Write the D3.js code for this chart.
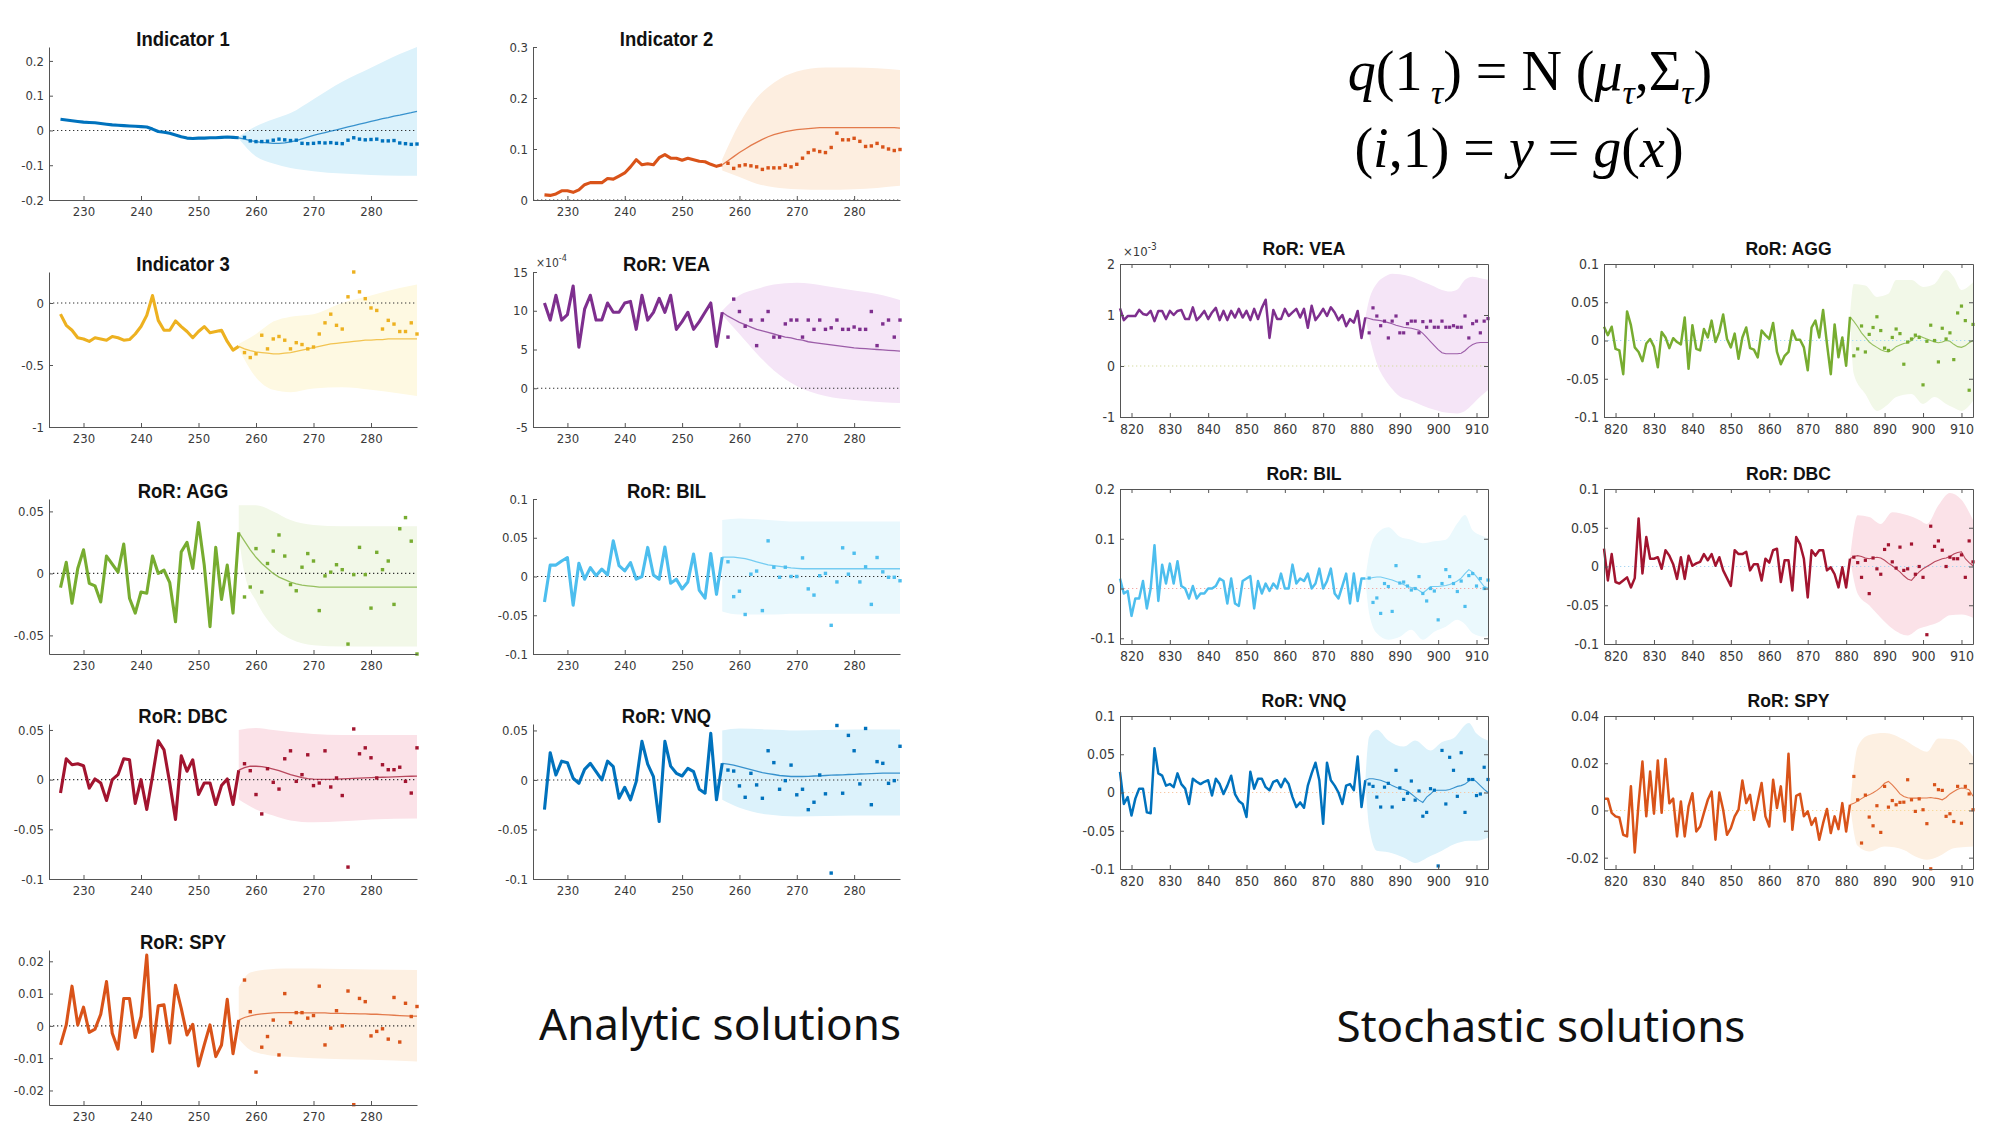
<!DOCTYPE html>
<html><head><meta charset="utf-8">
<script src="https://cdn.jsdelivr.net/npm/d3@7/dist/d3.min.js"></script>
<style>body{margin:0;background:#fff}svg{display:block}</style>
</head><body>
<svg id="c" width="1990" height="1141"></svg>
<script>
// ---------------- DATA ----------------
// Analytic solutions: observed 226..257, forecast mean 257..288, actual dots 258..288
const xTicksA = [230,240,250,260,270,280];
const xTicksS = [820,830,840,850,860,870,880,890,900,910];

const ind1Obs = [0.032,0.030,0.028,0.026,0.024,0.023,0.022,0.020,0.018,0.016,0.015,0.014,0.013,0.012,0.011,0.010,0.004,-0.003,-0.005,-0.008,-0.013,-0.018,-0.022,-0.023,-0.022,-0.022,-0.021,-0.021,-0.020,-0.019,-0.020,-0.021];
const ind1Mean = [-0.021,-0.025,-0.029,-0.032,-0.034,-0.036,-0.037,-0.037,-0.036,-0.033,-0.029,-0.024,-0.019,-0.014,-0.010,-0.006,-0.002,0.002,0.006,0.010,0.014,0.018,0.022,0.026,0.030,0.034,0.037,0.041,0.044,0.048,0.051,0.055];
const ind1Dots = [-0.02,-0.03,-0.032,-0.032,-0.031,-0.028,-0.025,-0.027,-0.029,-0.028,-0.037,-0.038,-0.037,-0.035,-0.036,-0.035,-0.037,-0.038,-0.028,-0.021,-0.025,-0.027,-0.026,-0.025,-0.03,-0.03,-0.029,-0.036,-0.038,-0.04,-0.039];
const ind1BandX = [257,260,263,266,270,275,280,285,288];
const ind1BandHi = [-0.018,0.012,0.032,0.05,0.09,0.14,0.18,0.22,0.24];
const ind1BandLo = [-0.024,-0.075,-0.095,-0.108,-0.117,-0.124,-0.128,-0.13,-0.13];
const ind1YTicks = [-0.2,-0.1,0,0.1,0.2];

const ind2Obs = [0.010,0.009,0.012,0.018,0.018,0.015,0.020,0.030,0.034,0.034,0.034,0.042,0.041,0.047,0.053,0.065,0.079,0.069,0.071,0.069,0.083,0.089,0.082,0.082,0.078,0.082,0.079,0.076,0.075,0.070,0.066,0.069];
const ind2Mean = [0.069,0.077,0.085,0.093,0.100,0.107,0.113,0.119,0.124,0.128,0.131,0.134,0.136,0.138,0.139,0.140,0.141,0.142,0.142,0.142,0.142,0.142,0.142,0.142,0.142,0.142,0.142,0.142,0.142,0.142,0.142,0.141];
const ind2Dots = [0.072,0.062,0.067,0.069,0.067,0.065,0.060,0.063,0.063,0.063,0.068,0.065,0.070,0.082,0.093,0.098,0.095,0.093,0.103,0.131,0.118,0.118,0.121,0.115,0.105,0.106,0.111,0.104,0.100,0.097,0.099];
const ind2BandX = [257,260,263,266,270,275,280,288];
const ind2BandHi = [0.08,0.15,0.2,0.23,0.252,0.26,0.26,0.255];
const ind2BandLo = [0.058,0.045,0.032,0.025,0.021,0.02,0.021,0.028];
const ind2YTicks = [0,0.1,0.2,0.3];

const ind3Obs = [-0.09,-0.18,-0.22,-0.28,-0.29,-0.31,-0.28,-0.29,-0.30,-0.27,-0.28,-0.30,-0.295,-0.25,-0.19,-0.10,0.06,-0.14,-0.22,-0.22,-0.145,-0.19,-0.23,-0.28,-0.23,-0.19,-0.24,-0.23,-0.22,-0.31,-0.38,-0.35];
const ind3Mean = [-0.35,-0.37,-0.385,-0.395,-0.40,-0.405,-0.41,-0.41,-0.405,-0.40,-0.39,-0.38,-0.37,-0.36,-0.35,-0.34,-0.33,-0.325,-0.32,-0.315,-0.31,-0.305,-0.30,-0.30,-0.295,-0.295,-0.29,-0.29,-0.29,-0.29,-0.29,-0.29];
const ind3Dots = [-0.40,-0.44,-0.41,-0.26,-0.37,-0.29,-0.27,-0.30,-0.37,-0.32,-0.335,-0.37,-0.355,-0.25,-0.16,-0.09,-0.18,-0.21,0.05,0.25,0.09,0.035,-0.04,-0.06,-0.21,-0.14,-0.17,-0.23,-0.23,-0.16,-0.25];
const ind3BandX = [257,260,263,266,270,275,280,285,288];
const ind3BandHi = [-0.33,-0.25,-0.15,-0.11,-0.09,0.0,0.06,0.12,0.15];
const ind3BandLo = [-0.37,-0.6,-0.7,-0.72,-0.69,-0.68,-0.7,-0.73,-0.75];
const ind3YTicks = [-1,-0.5,0];

// VEA analytic values in units of 1e-4
const veaAObs = [11,8.8,12,8.8,9.5,13.2,5.3,10.2,12,8.8,8.8,11,9.8,9.8,11,11.2,7.6,12,8.8,9.8,11.6,9.8,12,7.6,8.6,9.8,7.6,8.6,9.8,11,5.4,9.8];
const veaAMean = [9.8,9.3,8.9,8.5,8.2,7.9,7.6,7.4,7.2,7.0,6.8,6.6,6.5,6.3,6.2,6.0,5.9,5.8,5.7,5.6,5.5,5.4,5.3,5.2,5.15,5.1,5.05,5.0,4.95,4.9,4.85,4.8];
const veaADots = [6.6,11.5,9.9,8.0,8.8,5.5,8.8,9.9,6.6,6.6,8.3,8.8,8.8,6.6,8.8,7.6,8.8,7.6,7.8,8.8,7.6,7.6,7.9,7.6,7.6,9.9,5.5,8.3,8.8,6.6,8.8];
const veaABandX = [257,260,263,266,270,275,280,285,288];
const veaABandHi = [10,12,12.8,13.4,13.6,13.2,12.6,12,11.4];
const veaABandLo = [9.5,7,4.5,2.3,0.3,-1.0,-1.5,-1.8,-1.9];
const veaAYTicks = [-5,0,5,10,15];

const aggAObs = [-0.0115,0.009,-0.024,0.004,0.019,-0.008,-0.01,-0.023,0.014,0.0075,0.001,0.0236,-0.02,-0.032,-0.015,-0.016,0.014,0,0.0027,-0.0075,-0.039,0.0174,0.025,0.004,0.041,0.0067,-0.043,0.021,-0.021,0.0067,-0.032,0.033];
const aggAMean = [0.033,0.026,0.019,0.013,0.008,0.004,0.0,-0.003,-0.005,-0.007,-0.0085,-0.0095,-0.010,-0.0105,-0.011,-0.011,-0.011,-0.011,-0.011,-0.011,-0.011,-0.011,-0.011,-0.011,-0.011,-0.011,-0.011,-0.011,-0.011,-0.011,-0.011,-0.011];
const aggADots = [-0.019,-0.011,0.020,-0.015,0.008,0.018,0.031,0.014,-0.009,-0.014,0.005,0.016,0.01,-0.030,-0.002,0.001,0.007,0.003,-0.057,-0.001,0.021,-0.001,-0.028,0.017,0.003,0.010,-0.025,0.036,0.045,0.026,-0.065];
const aggABandX = [257,258,260,263,266,270,275,288];
const aggABandHi = [0.055,0.055,0.055,0.05,0.043,0.039,0.038,0.038];
const aggABandLo = [0.03,0.0,-0.022,-0.043,-0.053,-0.058,-0.059,-0.059];
const aggAYTicks = [-0.05,0,0.05];

const bilAObs = [-0.033,0.0147,0.0147,0.02,0.0245,-0.037,0.017,-0.0035,0.0115,0.001,0.0095,0.002,0.046,0.014,0.0073,0.018,-0.0035,0,0.0375,0.002,-0.0035,0.038,-0.0086,-0.0035,-0.016,-0.007,0.029,-0.018,-0.028,0.0297,-0.023,0.025];
const bilAMean = [0.025,0.025,0.025,0.024,0.023,0.021,0.019,0.017,0.015,0.014,0.013,0.012,0.011,0.0105,0.01,0.01,0.01,0.01,0.01,0.01,0.01,0.01,0.01,0.01,0.01,0.01,0.01,0.01,0.01,0.01,0.01,0.01];
const bilADots = [0.019,-0.026,-0.019,-0.049,0.003,0.007,-0.044,0.046,0.012,-0.001,0.012,0,0,0.024,-0.016,-0.024,0.001,0.004,-0.063,-0.007,0.037,0.003,0.030,-0.007,0.0125,-0.036,0.0245,0.006,-0.001,-0.001,-0.0055];
const bilABandX = [257,260,265,270,288];
const bilABandHi = [0.073,0.075,0.073,0.071,0.071];
const bilABandLo = [-0.045,-0.049,-0.049,-0.048,-0.048];
const bilAYTicks = [-0.1,-0.05,0,0.05,0.1];

const dbcAObs = [-0.0135,0.021,0.015,0.016,0.014,-0.0085,0.0007,-0.0034,-0.021,0,0.005,0.021,0.020,-0.024,0,-0.030,0.0034,0.039,0.030,-0.0034,-0.040,0.024,0.0085,0.020,-0.015,-0.0034,-0.0034,-0.025,-0.006,0.0007,-0.025,0.0095];
const dbcAMean = [0.0095,0.012,0.0135,0.0135,0.013,0.012,0.0105,0.009,0.007,0.005,0.0035,0.002,0.001,0.0005,0.0003,0.0002,0.0002,0.0005,0.0008,0.001,0.0012,0.0015,0.0017,0.002,0.0022,0.0024,0.0026,0.0028,0.003,0.0032,0.0034,0.0035];
const dbcADots = [0.016,0.009,-0.015,-0.0345,0.011,-0.0027,-0.0095,0.021,0.029,-0.0017,0.005,0.025,-0.006,-0.0034,0.029,-0.0074,0.0017,-0.016,-0.088,0.051,0.026,0.032,0.022,0.0017,0.015,0.010,0.010,0.0125,-0.0017,-0.0135,0.032];
const dbcABandX = [257,260,263,266,270,275,280,288];
const dbcABandHi = [0.05,0.052,0.05,0.048,0.046,0.045,0.045,0.045];
const dbcABandLo = [-0.02,-0.03,-0.036,-0.041,-0.043,-0.042,-0.04,-0.039];
const dbcAYTicks = [-0.1,-0.05,0,0.05];

const vnqAObs = [-0.030,0.0275,0.005,0.019,0.0175,0.0017,-0.0034,0.0107,0.0168,0.0084,0,0.019,0.0134,-0.0185,-0.0074,-0.020,-0.0017,0.039,0.016,0.0034,-0.042,0.039,0.014,0.0067,0.004,0.0117,0.0084,-0.0094,-0.0134,0.047,-0.020,0.0168];
const vnqAMean = [0.0168,0.016,0.015,0.0135,0.012,0.0105,0.009,0.0075,0.0065,0.0055,0.0045,0.004,0.0035,0.0035,0.0035,0.0037,0.004,0.0042,0.0045,0.0048,0.005,0.0052,0.0055,0.0057,0.006,0.0062,0.0064,0.0066,0.0068,0.007,0.007,0.007];
const vnqADots = [0.010,0.009,-0.006,-0.0175,0.0067,-0.005,-0.0185,0.0295,0.0175,-0.0094,-0.0007,0.015,-0.015,-0.0094,-0.030,-0.0225,0.005,-0.014,-0.094,0.055,-0.0134,0.045,0.0295,-0.004,0.052,-0.025,0.0185,0.0168,-0.0034,-0.0007,0.034];
const vnqABandX = [257,260,265,270,280,288];
const vnqABandHi = [0.05,0.052,0.051,0.05,0.051,0.051];
const vnqABandLo = [-0.02,-0.028,-0.035,-0.037,-0.036,-0.036];
const vnqAYTicks = [-0.1,-0.05,0,0.05];

const spyAObs = [-0.0059,0.0003,0.0123,0.0003,0.0058,-0.002,-0.001,0.0036,0.0137,-0.0023,-0.0072,0.0085,0.0085,-0.0036,0.0029,0.0219,-0.0079,0.0062,0.0065,-0.0053,0.0126,0.0054,-0.0028,0.0005,-0.0124,-0.0059,0.0003,-0.0095,-0.0059,0.0082,-0.0086,0.0018];
const spyAMean = [0.0018,0.0026,0.0031,0.0035,0.0037,0.0039,0.004,0.0041,0.0041,0.0041,0.0041,0.004,0.004,0.004,0.004,0.004,0.0039,0.0039,0.0039,0.0038,0.0038,0.0037,0.0037,0.0036,0.0036,0.0035,0.0034,0.0033,0.0032,0.0031,0.003,0.003];
const spyADots = [0.0142,0.0044,-0.0143,-0.0066,-0.0033,0.0018,-0.009,0.010,0.001,0.0041,0.0041,0.0024,0.0032,0.0123,-0.0059,-0.0007,0.0047,0,0.0108,-0.0244,0.0085,0.0075,-0.0031,-0.0017,-0.0009,-0.0041,0.0088,-0.005,0.007,0.0029,0.006];
const spyABandX = [257,259,262,265,270,280,288];
const spyABandHi = [0.012,0.0165,0.0175,0.0178,0.0178,0.0175,0.0173];
const spyABandLo = [-0.004,-0.0075,-0.009,-0.0095,-0.01,-0.0105,-0.011];
const spyAYTicks = [-0.02,-0.01,0,0.01,0.02];

// Stochastic solutions: observed 817..881, mean 881..913, dots 882..913
// VEA stochastic values in units of 1e-3
const veaSObs = [1.13,0.9,0.98,0.98,0.98,1.1,1.02,1.0,1.08,0.88,1.08,1.08,0.92,1.08,1.0,1.08,1.1,0.92,0.92,1.15,0.9,0.98,1.08,0.92,1.05,1.14,0.9,1.08,0.9,1.08,0.95,1.12,0.95,1.08,0.9,1.12,0.92,1.14,1.3,0.55,1.1,0.92,0.92,1.12,0.98,1.05,1.12,0.95,1.12,0.75,1.18,0.9,1.0,1.12,0.98,1.15,1.05,0.9,1.0,0.78,0.92,0.85,1.08,0.55,0.95];
const veaSMean = [0.95,0.93,0.91,0.9,0.89,0.87,0.85,0.83,0.8,0.78,0.76,0.75,0.74,0.72,0.7,0.64,0.56,0.48,0.4,0.32,0.26,0.24,0.24,0.24,0.24,0.25,0.3,0.37,0.42,0.45,0.46,0.46,0.46];
const veaSDots = [0.65,1.14,0.98,0.79,0.88,0.55,0.88,0.98,0.65,0.65,0.83,0.88,0.88,0.65,0.87,0.76,0.88,0.76,0.76,0.88,0.76,0.76,0.79,0.76,0.76,0.98,0.55,0.83,0.88,0.65,0.88,0.93];
const veaSBandX = [881,882,883,884,886,888,890,893,896,899,901,903,905,907,909,911,913];
const veaSBandHi = [0.95,1.3,1.5,1.62,1.75,1.81,1.8,1.75,1.65,1.56,1.49,1.46,1.5,1.69,1.75,1.72,1.69];
const veaSBandLo = [0.95,0.6,0.3,0.05,-0.25,-0.45,-0.6,-0.68,-0.78,-0.86,-0.9,-0.92,-0.93,-0.88,-0.75,-0.6,-0.47];
const veaSYTicks = [-1,0,1,2];

const aggSObs = [0.018,0.007,0.018,-0.011,-0.013,-0.044,0.038,0.020,-0.009,-0.015,-0.027,-0.004,0.002,-0.008,-0.035,0.011,0.004,-0.010,0.003,-0.002,-0.005,0.030,-0.037,0.020,-0.011,-0.013,0.015,0.004,0.026,-0.002,0.011,0.034,0.002,-0.009,0.009,-0.024,0.004,0.017,-0.010,-0.012,-0.022,0.013,0.007,0.002,0.023,-0.015,-0.031,-0.020,-0.015,0.013,0.001,0.001,-0.009,-0.039,0.017,0.026,0.004,0.040,-0.004,-0.044,0.021,-0.022,0.004,-0.033,0.031];
const aggSMean = [0.031,0.025,0.018,0.01,0.004,-0.002,-0.006,-0.009,-0.012,-0.014,-0.015,-0.012,-0.008,-0.006,-0.004,-0.003,0.0,0.005,0.006,0.004,0.002,0.0,-0.002,-0.003,-0.002,0.0,-0.001,-0.005,-0.008,-0.009,-0.007,-0.003,0.0];
const aggSDots = [-0.020,-0.011,0.019,-0.015,0.008,0.017,0.031,0.013,-0.010,-0.013,0.004,0.015,0.009,-0.031,-0.002,0.002,0.007,0.004,-0.058,-0.001,0.020,0,-0.028,0.016,0.002,0.010,-0.025,0.036,0.045,0.026,-0.065,0.021];
const aggSBandX = [881,882,885,888,891,893,897,900,903,906,908,910,913];
const aggSBandHi = [0.031,0.074,0.072,0.057,0.061,0.079,0.079,0.07,0.074,0.092,0.083,0.066,0.076];
const aggSBandLo = [0.031,-0.044,-0.07,-0.092,-0.083,-0.074,-0.07,-0.083,-0.074,-0.083,-0.088,-0.092,-0.079];
const aggSYTicks = [-0.1,-0.05,0,0.05,0.1];

const bilSObs = [0.02,-0.01,-0.005,-0.055,-0.02,-0.02,0.015,-0.04,0.0,0.087,-0.025,0.048,0.01,0.05,0.01,0.055,0.005,0.0,-0.02,0.005,-0.02,-0.01,-0.01,0.0,0.0,0.005,0.02,0.015,-0.03,0.02,-0.03,-0.035,0.015,0.02,0.025,-0.04,0.015,-0.01,0.01,-0.005,0.01,0.0,0.03,0.0,0.0,0.048,0.01,0.02,0.015,0.03,0.0,0.01,0.04,0.0,0.015,0.04,-0.01,-0.02,0.005,0.03,-0.03,0.03,-0.025,0.02,0.02];
const bilSMean = [0.019,0.02,0.022,0.023,0.023,0.021,0.019,0.017,0.014,0.011,0.008,0.004,0.002,0.001,-0.004,-0.009,-0.003,0.004,0.004,0.004,0.005,0.006,0.008,0.011,0.015,0.021,0.03,0.038,0.033,0.024,0.014,0.004,0.001];
const bilSDots = [0.021,-0.028,-0.019,-0.05,0.01,0.004,-0.046,0.046,0.011,0.013,0.005,-0.003,0.0,0.024,-0.01,-0.025,0.0,-0.005,-0.063,0.01,0.038,0.024,0.01,-0.006,0.015,-0.036,0.026,0.03,0.005,0.02,0.0,0.017];
const bilSBandX = [881,882,884,887,890,893,896,899,902,905,907,909,912,913];
const bilSBandHi = [0.02,0.07,0.11,0.123,0.104,0.098,0.091,0.095,0.098,0.131,0.148,0.117,0.104,0.1];
const bilSBandLo = [0.02,-0.05,-0.09,-0.103,-0.097,-0.083,-0.103,-0.087,-0.077,-0.063,-0.072,-0.09,-0.097,-0.095];
const bilSYTicks = [-0.1,0,0.1,0.2];

const dbcSObs = [0.023,-0.018,0.016,-0.02,-0.022,-0.018,-0.014,-0.027,-0.015,0.062,-0.009,0.038,0.01,0.01,0.012,-0.003,0.021,0.014,0.003,-0.016,0.012,-0.016,0.014,0.001,0.004,0.006,0.016,0.008,0.016,0.001,0.012,-0.005,-0.015,-0.025,0.021,0.016,0.016,0.019,-0.005,0.003,0.003,-0.018,0.01,0.005,0.021,0.023,-0.02,0.008,0.008,-0.031,0.038,0.029,0.01,-0.04,0.021,0.014,0.021,0.021,-0.005,-0.001,-0.01,-0.027,-0.001,-0.027,0.01];
const dbcSMean = [0.01,0.013,0.014,0.013,0.011,0.01,0.011,0.012,0.011,0.008,0.004,0.001,-0.003,-0.007,-0.012,-0.016,-0.018,-0.012,-0.007,-0.003,0,0.003,0.006,0.008,0.01,0.011,0.013,0.016,0.018,0.019,0.01,0.005,0.001];
const dbcSDots = [0.012,0.005,-0.014,0.008,-0.035,0.011,-0.003,-0.01,0.022,0.028,0.006,-0.002,0.025,-0.005,-0.003,0.029,-0.01,0.0,-0.014,-0.088,0.052,0.026,0.033,0.021,0.0,0.012,0.01,0.01,0.015,-0.014,0.033,0.006];
const dbcSBandX = [881,883,886,889,892,896,899,901,904,907,910,913];
const dbcSBandHi = [0.01,0.066,0.064,0.055,0.07,0.066,0.06,0.055,0.079,0.095,0.086,0.06];
const dbcSBandLo = [0.01,-0.035,-0.05,-0.066,-0.08,-0.089,-0.08,-0.077,-0.072,-0.063,-0.062,-0.066];
const dbcSYTicks = [-0.1,-0.05,0,0.05,0.1];

const vnqSObs = [0.027,-0.015,-0.006,-0.03,-0.008,0.005,0.005,-0.026,-0.027,0.058,0.025,0.022,0.009,0.011,0.007,0.025,0.011,0.005,-0.015,0.018,0.014,0.011,0.014,0.016,-0.004,0.018,0.011,-0.002,0.009,0.022,-0.002,-0.011,-0.015,-0.032,0.027,0.005,0.018,0.018,0.007,0.003,0.014,0.016,0.007,0.018,0.011,-0.006,-0.019,-0.013,-0.02,0.009,0.025,0.039,0.016,-0.041,0.039,0.016,0.009,0.0,-0.015,0.009,0.011,0.003,0.047,-0.019,0.016];
const vnqSMean = [0.016,0.018,0.018,0.017,0.016,0.014,0.012,0.009,0.007,0.005,0.004,0.002,-0.002,-0.006,-0.01,-0.013,-0.006,-0.002,0.003,0.003,0.003,0.003,0.004,0.006,0.008,0.009,0.011,0.015,0.018,0.014,0.009,0.004,0.0];
const vnqSDots = [0.011,0.008,-0.006,-0.019,0.007,0.012,-0.019,0.029,0.006,-0.009,-0.001,0.015,-0.01,0.002,-0.031,-0.026,0.005,0.003,-0.096,0.055,-0.015,0.046,0.029,-0.005,0.052,-0.026,0.017,0.017,-0.004,-0.002,0.033,0.017];
const vnqSBandX = [881,882,884,887,891,894,898,901,904,908,910,913];
const vnqSBandHi = [0.016,0.073,0.082,0.068,0.06,0.068,0.055,0.066,0.071,0.091,0.077,0.068];
const vnqSBandLo = [0.016,-0.045,-0.076,-0.078,-0.085,-0.092,-0.083,-0.076,-0.068,-0.063,-0.063,-0.059];
const vnqSYTicks = [-0.1,-0.05,0,0.05,0.1];

const spySObs = [0.005,0.005,-0.001,-0.0025,-0.003,-0.0103,-0.011,0.0102,-0.0178,0.0031,0.0207,-0.0025,0.0165,-0.0014,0.0212,-0.001,0.0218,0.003,0.005,-0.011,0.0038,-0.011,0.0017,0.0073,-0.0089,-0.0068,-0.001,0.0045,0.008,-0.0124,0.0076,0.0003,-0.0103,-0.0075,-0.0025,0.0003,0.0127,0.0031,0.0066,-0.004,0.0038,0.0116,-0.0025,-0.0068,0.013,0.001,0.0102,-0.0047,0.024,-0.0082,0.0062,0.007,-0.0025,-0.0004,-0.0061,-0.0032,-0.0124,-0.0054,0.0006,-0.0096,-0.0025,-0.0079,0.0031,-0.0089,0.0024];
const spySMean = [0.0024,0.003,0.004,0.005,0.006,0.0066,0.0075,0.0085,0.0098,0.0115,0.0123,0.0108,0.009,0.007,0.0059,0.0054,0.0052,0.0052,0.0052,0.0053,0.0053,0.0055,0.0052,0.005,0.0045,0.0055,0.007,0.008,0.009,0.0095,0.0093,0.0088,0.006];
const spySDots = [0.0144,0.0045,-0.0138,0.0065,-0.0028,-0.0065,0.002,-0.0093,0.0102,0.0014,0.0042,0.0024,0.0034,0.0035,0.013,0.0045,-0.0004,0.0049,0.0003,-0.0056,-0.0247,0.0109,0.0088,0.0085,-0.0025,-0.0014,-0.0047,0.0102,-0.0054,0.0102,0.007,0.0003];
const spySBandX = [881,883,886,890,895,898,901,904,908,911,913];
const spySBandHi = [0.0024,0.027,0.032,0.0328,0.03,0.027,0.0249,0.0305,0.03,0.027,0.0229];
const spySBandLo = [0.0024,-0.015,-0.0174,-0.0153,-0.0167,-0.0195,-0.0209,-0.0195,-0.016,-0.0155,-0.0153];
const spySYTicks = [-0.02,0,0.02,0.04];

// ---------------- LAYOUT / STYLE ----------------
const NARROW = "'Liberation Sans Narrow','Arial Narrow','DejaVu Sans Condensed',sans-serif";
const TITLEF = "'Liberation Sans',Arial,Helvetica,sans-serif";
const C = {
  blue:'#0072BD', orange:'#D95319', yellow:'#EDB120', purple:'#7E2F8E',
  green:'#77AC30', cyan:'#4DBEEE', red:'#A2142F'
};
const colA = [{x0:49,x1:417},{x0:533,x1:900}];
const rowA = [{top:47,bot:200},{top:272,bot:427},{top:499,bot:654},{top:724,bot:879},{top:950,bot:1105}];
const colS = [{x0:1120,x1:1488},{x0:1604,x1:1973}];
const rowS = [{top:264,bot:417},{top:489,bot:644},{top:716,bot:869}];

const svg = d3.select('#c');

function panel(p){
  const x = d3.scaleLinear().domain(p.xDomain).range([p.x0,p.x1]);
  const y = d3.scaleLinear().domain(p.yDomain).range([p.bot,p.top]);
  const g = svg.append('g');
  const band = p.bandX.map((v,i)=>({x:v,lo:p.bandLo[i],hi:p.bandHi[i]}));
  g.append('path').datum(band)
    .attr('d', d3.area().x(d=>x(d.x)).y0(d=>y(d.lo)).y1(d=>y(d.hi)).curve(d3.curveMonotoneX))
    .attr('fill', p.fill);
  g.append('line').attr('x1',p.x0).attr('x2',p.x1).attr('y1',y(0)).attr('y2',y(0))
    .attr('stroke',p.zero).attr('stroke-width',1.1).attr('stroke-dasharray','1.3,2.7');
  const line = d3.line().x(d=>x(d[0])).y(d=>y(d[1]));
  g.append('path').datum(p.obs.map((v,i)=>[p.obsStart+i,v])).attr('d',line)
    .attr('fill','none').attr('stroke',p.color).attr('stroke-width',p.obsW).attr('stroke-linejoin','round');
  g.append('path').datum(p.mean.map((v,i)=>[p.meanStart+i,v])).attr('d',line)
    .attr('fill','none').attr('stroke',p.color).attr('stroke-width',p.meanW).attr('stroke-opacity',0.75);
  const ds = p.dotSize;
  g.selectAll(null).data(p.dots.map((v,i)=>[p.meanStart+1+i,v])).join('rect')
    .attr('x',d=>x(d[0])-ds/2).attr('y',d=>y(d[1])-ds/2).attr('width',ds).attr('height',ds)
    .attr('fill',p.color);
  const fmt = d=>String(+d.toFixed(4));
  const axCol = '#555';
  const styleAx = (a)=>{
    a.select('.domain').attr('stroke',axCol).attr('stroke-width',1);
    a.selectAll('.tick line').attr('stroke',axCol);
    a.selectAll('.tick text').attr('fill','#3a3a3a').style('font-family',NARROW).style('font-size',p.tickFs+'px');
  };
  const gx = g.append('g').attr('transform',`translate(0,${p.bot})`)
    .call(d3.axisBottom(x).tickValues(p.xTicks).tickSizeInner(-4).tickSizeOuter(0).tickPadding(p.xPad).tickFormat(d3.format('d')));
  styleAx(gx);
  const gy = g.append('g').attr('transform',`translate(${p.x0},0)`)
    .call(d3.axisLeft(y).tickValues(p.yTicks).tickSizeInner(-4).tickSizeOuter(0).tickPadding(5).tickFormat(fmt));
  styleAx(gy);
  if(p.boxed){
    const gt = g.append('g').attr('transform',`translate(0,${p.top})`)
      .call(d3.axisTop(x).tickValues(p.xTicks).tickSizeInner(-4).tickSizeOuter(0).tickFormat(''));
    styleAx(gt);
    const gr = g.append('g').attr('transform',`translate(${p.x1},0)`)
      .call(d3.axisRight(y).tickValues(p.yTicks).tickSizeInner(-4).tickSizeOuter(0).tickFormat(''));
    styleAx(gr);
  }
  g.append('text').attr('transform',`translate(${p.titleX},${p.titleY}) scale(${p.titleSx},1)`)
    .attr('text-anchor','middle')
    .style('font-family',TITLEF).style('font-weight','bold').style('font-size',p.titleFs+'px')
    .attr('fill','#111').text(p.title);
  if(p.exp){
    const t = g.append('text').attr('x',p.x0+3).attr('y',p.expY)
      .style('font-family',NARROW).style('font-size',(p.tickFs-1)+'px').attr('fill','#3a3a3a');
    t.append('tspan').text('\u00d710');
    t.append('tspan').attr('dy',-6).style('font-size',(p.tickFs-4)+'px').text(p.exp);
  }
}

function analytic(ci,ri,title,obs,mean,dots,bx,bhi,blo,yt,yDomain,color,fill,exp){
  const c=colA[ci], r=rowA[ri];
  panel({x0:c.x0,x1:c.x1,top:r.top,bot:r.bot,xDomain:[224,288],yDomain,
    obs,mean,dots,obsStart:226,meanStart:257,bandX:bx,bandHi:bhi,bandLo:blo,
    xTicks:xTicksA,yTicks:yt,color,fill,zero:'#333',obsW:3.1,meanW:1.3,dotSize:3.4,
    tickFs:13,xPad:7,boxed:false,title,titleX:(c.x0+c.x1)/2-50,titleY:r.top-1,titleFs:21,titleSx:0.88,
    exp,expY:r.top-5});
}
function stoch(ci,ri,title,obs,mean,dots,bx,bhi,blo,yt,yDomain,color,fill,zero,exp){
  const c=colS[ci], r=rowS[ri];
  panel({x0:c.x0,x1:c.x1,top:r.top,bot:r.bot,xDomain:[817,913],yDomain,
    obs,mean,dots,obsStart:817,meanStart:881,bandX:bx,bandHi:bhi,bandLo:blo,
    xTicks:xTicksS,yTicks:yt,color,fill,zero,obsW:2.5,meanW:1.1,dotSize:3.2,
    tickFs:14,xPad:7,boxed:true,title,titleX:(c.x0+c.x1)/2,titleY:r.top-9,titleFs:18.5,titleSx:0.95,
    exp,expY:r.top-8});
}

analytic(0,0,'Indicator 1',ind1Obs,ind1Mean,ind1Dots,ind1BandX,ind1BandHi,ind1BandLo,ind1YTicks,[-0.2,0.24],C.blue,'#dcf2fb');
analytic(1,0,'Indicator 2',ind2Obs,ind2Mean,ind2Dots,ind2BandX,ind2BandHi,ind2BandLo,ind2YTicks,[0,0.3],C.orange,'#fdeee0');
analytic(0,1,'Indicator 3',ind3Obs,ind3Mean,ind3Dots,ind3BandX,ind3BandHi,ind3BandLo,ind3YTicks,[-1,0.25],C.yellow,'#fef9e2');
analytic(1,1,'RoR: VEA',veaAObs,veaAMean,veaADots,veaABandX,veaABandHi,veaABandLo,veaAYTicks,[-5,15],C.purple,'#f5e5f7','-4');
analytic(0,2,'RoR: AGG',aggAObs,aggAMean,aggADots,aggABandX,aggABandHi,aggABandLo,aggAYTicks,[-0.065,0.06],C.green,'#f2f8e8');
analytic(1,2,'RoR: BIL',bilAObs,bilAMean,bilADots,bilABandX,bilABandHi,bilABandLo,bilAYTicks,[-0.1,0.1],C.cyan,'#e9f8fd');
analytic(0,3,'RoR: DBC',dbcAObs,dbcAMean,dbcADots,dbcABandX,dbcABandHi,dbcABandLo,dbcAYTicks,[-0.1,0.056],C.red,'#fbe2e8');
analytic(1,3,'RoR: VNQ',vnqAObs,vnqAMean,vnqADots,vnqABandX,vnqABandHi,vnqABandLo,vnqAYTicks,[-0.1,0.0565],C.blue,'#dcf2fb');
analytic(0,4,'RoR: SPY',spyAObs,spyAMean,spyADots,spyABandX,spyABandHi,spyABandLo,spyAYTicks,[-0.0245,0.0235],C.orange,'#fdf0e2');

stoch(0,0,'RoR: VEA',veaSObs,veaSMean,veaSDots,veaSBandX,veaSBandHi,veaSBandLo,veaSYTicks,[-1,2],C.purple,'#f5e5f7','#d6dba0','-3');
stoch(1,0,'RoR: AGG',aggSObs,aggSMean,aggSDots,aggSBandX,aggSBandHi,aggSBandLo,aggSYTicks,[-0.1,0.1],C.green,'#f2f8e8','#a9dcf5');
stoch(0,1,'RoR: BIL',bilSObs,bilSMean,bilSDots,bilSBandX,bilSBandHi,bilSBandLo,bilSYTicks,[-0.1115,0.2],C.cyan,'#ebf9fd','#f2a8a8');
stoch(1,1,'RoR: DBC',dbcSObs,dbcSMean,dbcSDots,dbcSBandX,dbcSBandHi,dbcSBandLo,dbcSYTicks,[-0.1,0.1],C.red,'#fbe2e8','#a9d6f2');
stoch(0,2,'RoR: VNQ',vnqSObs,vnqSMean,vnqSDots,vnqSBandX,vnqSBandHi,vnqSBandLo,vnqSYTicks,[-0.1,0.1],C.blue,'#dcf2fb','#f7c9a6');
stoch(1,2,'RoR: SPY',spySObs,spySMean,spySDots,spySBandX,spySBandHi,spySBandLo,spySYTicks,[-0.0248,0.04],C.orange,'#fdf0e2','#f9d99a');

// ---------------- TEXT ----------------
const SERIF = "'Liberation Serif','Times New Roman',serif";
function eqLine(xc, yb, parts){
  const t = svg.append('text').attr('x',xc).attr('y',yb).attr('text-anchor','middle')
    .style('font-family',SERIF).style('font-size','56px').attr('fill','#000');
  parts.forEach(([s,it,sub])=>{
    const ts = t.append('tspan').text(s);
    if(it) ts.style('font-style','italic');
    if(sub===1) ts.attr('dy',14).style('font-size','34px');
    if(sub===-1) ts.attr('dy',-14);
  });
}
eqLine(1530,90,[['q',1],['(1',0],[' \u03c4',1,1],[')',0,-1],[' = N (',0],['\u03bc',1],['\u03c4',1,1],[',',0,-1],['\u03a3',0],['\u03c4',1,1],[')',0,-1]]);
eqLine(1519,167,[['(',0],['i',1],[',1) = ',0],['y',1],[' = ',0],['g',1],['(',0],['x',1],[')',0]]);

svg.append('text').attr('x',720).attr('y',1040).attr('text-anchor','middle')
  .style('font-family',"'Noto Sans','Open Sans',sans-serif").style('font-size','44px').attr('fill','#111')
  .text('Analytic solutions');
svg.append('text').attr('x',1541).attr('y',1042).attr('text-anchor','middle')
  .style('font-family',"'Noto Sans','Open Sans',sans-serif").style('font-size','44px').attr('fill','#111')
  .text('Stochastic solutions');
</script>
</body></html>
